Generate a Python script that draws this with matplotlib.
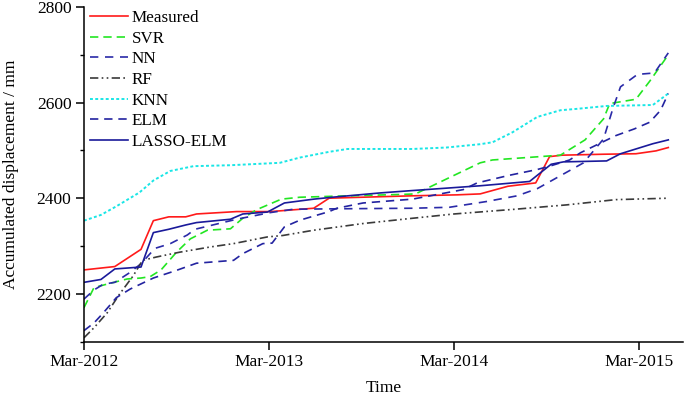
import matplotlib
matplotlib.use("Agg")
import matplotlib.pyplot as plt
from matplotlib.ticker import MultipleLocator

plt.rcParams['font.family'] = ['Liberation Serif', 'DejaVu Serif']
plt.rcParams['font.size'] = 12.5

# months since Mar-2012, accumulated displacement (mm)
measured_t = [0, 2.0, 3.7, 4.5, 5.5, 6.6, 7.3, 9.9, 12.1, 14.9, 15.9, 18.0, 21.3, 24.2, 25.7,
              27.5, 29.3, 30.2, 31.0, 33.7, 35.8, 37.1, 37.9]
measured_v = [2250, 2257, 2293, 2353, 2361, 2361, 2367, 2372, 2372, 2379, 2400, 2402, 2405, 2407, 2409,
              2425, 2432, 2487, 2490, 2492, 2493, 2499, 2506]

svr_t = [0, 0.65, 1.7, 2.8, 3.7, 4.3, 5.0, 6.0, 6.9, 8.0, 9.5, 10.3, 11.2, 12.8, 14.0, 16.1, 20.7,
         21.5, 23.5, 25.7, 26.5, 28.7, 30.9, 32.5, 33.7, 34.1, 35.8, 36.7, 37.9]
svr_v = [2171, 2213, 2222, 2231, 2233, 2236, 2250, 2287, 2315, 2333, 2336, 2358, 2376, 2398, 2402, 2404, 2408,
         2409, 2440, 2474, 2480, 2485, 2490, 2522, 2566, 2598, 2607, 2645, 2700]

nn_t = [0, 0.65, 1.25, 2.0, 3.0, 3.7, 4.6, 5.6, 6.7, 7.2, 9.9, 12.1, 13.6, 17.1, 21.3, 23.7, 26.1,
        28.1, 29.4, 30.4, 32.4, 33.7, 34.3, 34.8, 35.9, 37.0, 37.9]
nn_v = [2189, 2208, 2220, 2224, 2245, 2263, 2295, 2305, 2323, 2335, 2356, 2370, 2377, 2378, 2379, 2381, 2393,
        2405, 2420, 2438, 2474, 2524, 2587, 2633, 2659, 2662, 2704]

rf_t = [0, 0.65, 1.5, 2.3, 3.2, 3.8, 4.7, 6.2, 8.2, 9.7, 11.9, 12.9, 14.9, 18.1, 21.3, 24.0, 26.0,
        28.0, 31.3, 34.5, 37.9]
rf_v = [2108, 2129, 2160, 2199, 2238, 2270, 2277, 2287, 2298, 2305, 2319, 2322, 2333, 2347, 2358, 2367, 2372,
        2377, 2386, 2397, 2400]

knn_t = [0, 1.1, 2.1, 3.6, 4.5, 5.6, 7.1, 9.5, 12.7, 14.0, 15.9, 17.1, 21.3, 23.5, 25.7, 26.5, 27.8,
         29.4, 30.9, 32.0, 33.9, 36.9, 37.9]
knn_v = [2353, 2365, 2383, 2412, 2437, 2457, 2467, 2469, 2474, 2485, 2497, 2503, 2503, 2506, 2513, 2517, 2538,
         2570, 2584, 2587, 2593, 2595, 2619]

elm_t = [0, 0.65, 1.25, 2.1, 3.0, 4.5, 6.0, 7.3, 9.7, 10.3, 11.6, 12.2, 13.0, 14.0, 15.9, 16.4, 18.1,
         21.3, 24.6, 25.5, 27.6, 29.4, 30.2, 31.5, 32.2, 34.5, 35.7, 36.7, 37.4, 37.9]
elm_v = [2123, 2139, 2160, 2192, 2210, 2233, 2249, 2264, 2270, 2284, 2305, 2306, 2340, 2354, 2372, 2379, 2390,
         2398, 2418, 2432, 2448, 2460, 2467, 2480, 2495, 2531, 2545, 2559, 2584, 2619]

lasso_t = [0, 1.1, 2.0, 3.7, 4.5, 5.5, 6.6, 7.3, 9.5, 10.3, 11.9, 13.0, 14.9, 16.1, 19.2, 21.3, 23.5,
           25.7, 28.9, 30.3, 31.1, 33.9, 34.8, 36.9, 37.9]
lasso_v = [2224, 2230, 2252, 2256, 2328, 2335, 2344, 2349, 2356, 2367, 2371, 2390, 2398, 2402, 2411, 2416, 2421,
           2426, 2435, 2471, 2476, 2478, 2493, 2514, 2522]

tick_pos = [0, 12, 24, 36]
tick_labels = ['Mar-2012', 'Mar-2013', 'Mar-2014', 'Mar-2015']

fig = plt.figure(figsize=(6.85, 4.0), dpi=100)
ax = fig.add_axes([0.1226, 0.146, 0.8744, 0.8365])

lw = 1.2
ax.plot(measured_t, measured_v, color='#ff1a1a', lw=lw, ls='-', label='Measured')
ax.plot(svr_t, svr_v, color='#22e622', lw=lw, ls=(0, (5, 3)), label='SVR')
ax.plot(nn_t, nn_v, color='#2a2aa8', lw=lw, ls=(0, (5, 4)), label='NN')
ax.plot(rf_t, rf_v, color='#3a3a3a', lw=lw, ls=(0, (5, 2, 1, 2, 1, 2)), label='RF')
ax.plot(knn_t, knn_v, color='#1ae6e6', lw=lw + 0.2, ls=(0, (1.5, 1.2)), label='KNN')
ax.plot(elm_t, elm_v, color='#2323a0', lw=lw, ls=(0, (5, 3.5)), label='ELM')
ax.plot(lasso_t, lasso_v, color='#1a1a9a', lw=lw, ls='-', label='LASSO-ELM')

ax.set_xlim(0, 38.85)
ax.set_ylim(2100, 2800)
ax.set_xticks(tick_pos)
ax.set_xticklabels(tick_labels)
ax.set_yticks([2200, 2400, 2600, 2800])
ax.yaxis.set_minor_locator(MultipleLocator(100))

for s in ['top', 'right']:
    ax.spines[s].set_visible(False)
for s in ['left', 'bottom']:
    ax.spines[s].set_linewidth(1.1)

ax.tick_params(axis='both', which='major', direction='out', length=5.5, width=1.1, pad=3.5)
ax.tick_params(axis='y', which='minor', direction='out', length=3, width=1.0)
ax.tick_params(axis='x', which='minor', length=0)

ax.set_xlabel('Time', labelpad=7)
ax.set_ylabel('Accumulated displacement / mm', labelpad=13)

ax.legend(loc='upper left', bbox_to_anchor=(-0.004, 1.016), frameon=False,
          handlelength=2.2, handletextpad=0.25, labelspacing=0.27, borderpad=0.2,
          borderaxespad=0.3, fontsize=12.3)

plt.savefig('out.png', dpi=100)
